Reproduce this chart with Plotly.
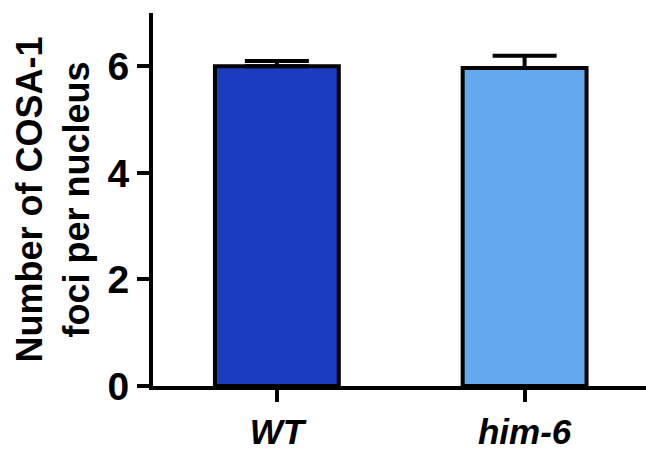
import plotly.graph_objects as go

# Mean COSA-1 foci per nucleus with SEM
genotypes = ["WT", "him-6"]
tick_text = ["<i>WT</i>", "<i>him-6</i>"]
mean_foci = [6.0, 5.97]
sem_foci = [0.10, 0.23]
bar_colors = ["#1c3cbf", "#62a9f0"]
y_ticks = [0, 2, 4, 6]

fig = go.Figure()
fig.add_trace(go.Bar(
    x=genotypes,
    y=mean_foci,
    width=0.5,
    marker=dict(color=bar_colors, line=dict(color="black", width=4)),
    error_y=dict(type="data", array=sem_foci, arrayminus=[0, 0],
                 color="black", thickness=4, width=32),
    showlegend=False,
))

axis_font = dict(family="Liberation Sans, Arial, sans-serif", size=35, color="black")

fig.update_layout(
    width=646, height=451,
    margin=dict(l=153, r=0, t=13, b=52),
    paper_bgcolor="white", plot_bgcolor="white",
    font=dict(family="Liberation Sans, Arial, sans-serif", color="black"),
    xaxis=dict(
        range=[-0.5, 1.49],
        tickvals=genotypes, ticktext=tick_text,
        showline=True, linecolor="black", linewidth=4,
        ticks="outside", ticklen=12, tickwidth=4, tickcolor="black",
        tickfont=dict(axis_font, weight="bold"),
        showgrid=False, zeroline=False,
    ),
    yaxis=dict(
        range=[0, 7],
        tickvals=y_ticks,
        showline=True, linecolor="black", linewidth=4,
        ticks="outside", ticklen=12, tickwidth=4, tickcolor="black",
        tickfont=dict(axis_font, size=39, weight="bold"),
        showgrid=False, zeroline=False,
        title=dict(text="Number of COSA-1<br>foci per nucleus",
                   font=dict(axis_font, size=36, weight="bold"),
                   standoff=8),
    ),
)

fig.write_html("out.html")
